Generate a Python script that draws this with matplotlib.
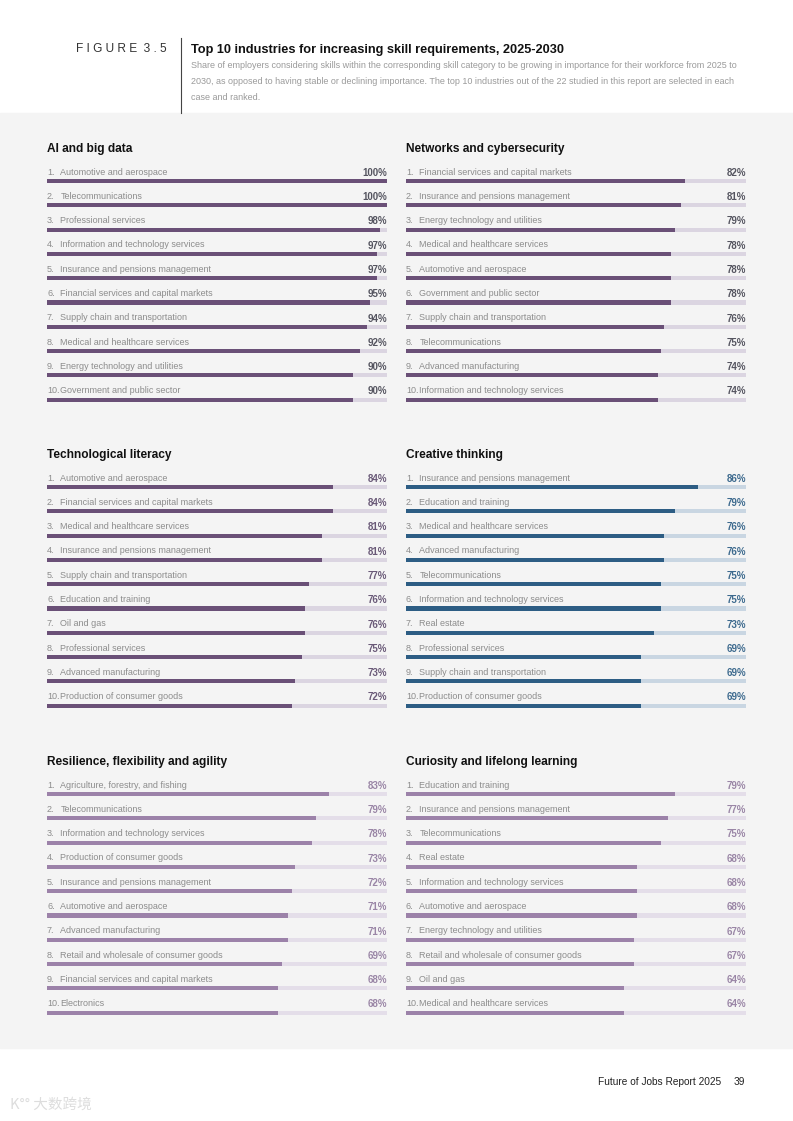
import matplotlib
matplotlib.use("Agg")
import matplotlib.pyplot as plt
from matplotlib.patches import Rectangle

plt.rcParams['font.family'] = ['Liberation Sans', 'DejaVu Sans']

# --- данные ---
ai_names = ["Automotive and aerospace", "Telecommunications", "Professional services",
            "Information and technology services", "Insurance and pensions management",
            "Financial services and capital markets", "Supply chain and transportation",
            "Medical and healthcare services", "Energy technology and utilities",
            "Government and public sector"]
ai_vals = [100, 100, 98, 97, 97, 95, 94, 92, 90, 90]

net_names = ["Financial services and capital markets", "Insurance and pensions management",
             "Energy technology and utilities", "Medical and healthcare services",
             "Automotive and aerospace", "Government and public sector",
             "Supply chain and transportation", "Telecommunications",
             "Advanced manufacturing", "Information and technology services"]
net_vals = [82, 81, 79, 78, 78, 78, 76, 75, 74, 74]

tech_names = ["Automotive and aerospace", "Financial services and capital markets",
              "Medical and healthcare services", "Insurance and pensions management",
              "Supply chain and transportation", "Education and training", "Oil and gas",
              "Professional services", "Advanced manufacturing", "Production of consumer goods"]
tech_vals = [84, 84, 81, 81, 77, 76, 76, 75, 73, 72]

crea_names = ["Insurance and pensions management", "Education and training",
              "Medical and healthcare services", "Advanced manufacturing", "Telecommunications",
              "Information and technology services", "Real estate", "Professional services",
              "Supply chain and transportation", "Production of consumer goods"]
crea_vals = [86, 79, 76, 76, 75, 75, 73, 69, 69, 69]

res_names = ["Agriculture, forestry, and fishing", "Telecommunications",
             "Information and technology services", "Production of consumer goods",
             "Insurance and pensions management", "Automotive and aerospace",
             "Advanced manufacturing", "Retail and wholesale of consumer goods",
             "Financial services and capital markets", "Electronics"]
res_vals = [83, 79, 78, 73, 72, 71, 71, 69, 68, 68]

cur_names = ["Education and training", "Insurance and pensions management", "Telecommunications",
             "Real estate", "Information and technology services", "Automotive and aerospace",
             "Energy technology and utilities", "Retail and wholesale of consumer goods",
             "Oil and gas", "Medical and healthcare services"]
cur_vals = [79, 77, 75, 68, 68, 68, 67, 67, 64, 64]

W, H = 793, 1121
fig = plt.figure(figsize=(W / 100, H / 100), dpi=100)
fig.patch.set_facecolor("white")

# серый фон (под осями)
fig.patches.append(Rectangle((0, 1 - 1048 / H), 1, (1048 - 113) / H,
                             transform=fig.transFigure, color="#f4f4f4", zorder=-5))

# --- шапка ---
fig.text(167 / W, 1 - 49 / H, "F I G U R E  3 . 5", fontsize=8.6, color="#333333",
         va="center", ha="right")
fig.add_artist(plt.Line2D([181 / W, 181 / W], [1 - 38 / H, 1 - 113 / H],
                          transform=fig.transFigure, color="#444444", lw=0.8))
fig.text(191 / W, 1 - 50 / H, "Top 10 industries for increasing skill requirements, 2025-2030",
         fontsize=9.2, fontweight="bold", color="#111111", va="center", ha="left")
sub = ["Share of employers considering skills within the corresponding skill category to be growing in importance for their workforce from 2025 to",
       "2030, as opposed to having stable or declining importance. The top 10 industries out of the 22 studied in this report are selected in each",
       "case and ranked."]
for i, line in enumerate(sub):
    fig.text(191 / W, 1 - (66 + i * 15.5) / H, line, fontsize=6.45, color="#9a9a9a",
             va="center", ha="left")

# --- панели ---
s = 24.3  # шаг строк в пикселях
panels = [
    ("AI and big data", ai_names, ai_vals, 47, 181, "#6a5077", "#dbd5e1", "#555560"),
    ("Networks and cybersecurity", net_names, net_vals, 406, 181, "#6a5077", "#dbd5e1", "#555560"),
    ("Technological literacy", tech_names, tech_vals, 47, 487, "#6a5077", "#dbd5e1", "#6a5a78"),
    ("Creative thinking", crea_names, crea_vals, 406, 487, "#2d5d84", "#c9d6e2", "#3d6a8e"),
    ("Resilience, flexibility and agility", res_names, res_vals, 47, 794, "#9c82a9", "#e4dee9", "#9a86a6"),
    ("Curiosity and lifelong learning", cur_names, cur_vals, 406, 794, "#9c82a9", "#e4dee9", "#9a86a6"),
]

for title, names, vals, x0, y0, col, track, pcol in panels:
    top = y0 - 2.0 * s
    bottom = y0 + 9.5 * s
    ax = fig.add_axes([x0 / W, 1 - bottom / H, 340 / W, (bottom - top) / H])
    ax.set_xlim(0, 100)
    ax.set_ylim(9.5, -2.0)
    ax.axis("off")
    ys = list(range(len(vals)))
    ax.barh(ys, [100] * len(vals), height=0.17, color=track, zorder=1)
    ax.barh(ys, vals, height=0.17, color=col, zorder=2)
    ax.text(0, -1.31, title, fontsize=8.6, fontweight="bold", color="#111111",
            va="center", ha="left")
    for i, (n, v) in enumerate(zip(names, vals)):
        ax.text(0, i - 0.37, f"{i + 1}.", fontsize=6.5, color="#8c8c8c", va="center", ha="left")
        ax.text(3.9, i - 0.37, n, fontsize=6.5, color="#8c8c8c", va="center", ha="left")
        ax.text(100, i - 0.34, f"{v}%", fontsize=7, fontweight="bold", color=pcol,
                va="center", ha="right")

# --- подвал ---
fig.text(721 / W, 1 - 1082 / H, "Future of Jobs Report 2025", fontsize=7.3, color="#222222",
         va="center", ha="right")
fig.text(745 / W, 1 - 1082 / H, "39", fontsize=7.3, color="#222222", va="center", ha="right")
fig.text(10 / W, 1 - 1105 / H, "K°° 大数跨境", fontsize=10.5, color="#dddddd",
         va="center", ha="left", family=["Noto Sans CJK SC", "DejaVu Sans"])

fig.savefig("out.png", dpi=100, facecolor=fig.get_facecolor())
